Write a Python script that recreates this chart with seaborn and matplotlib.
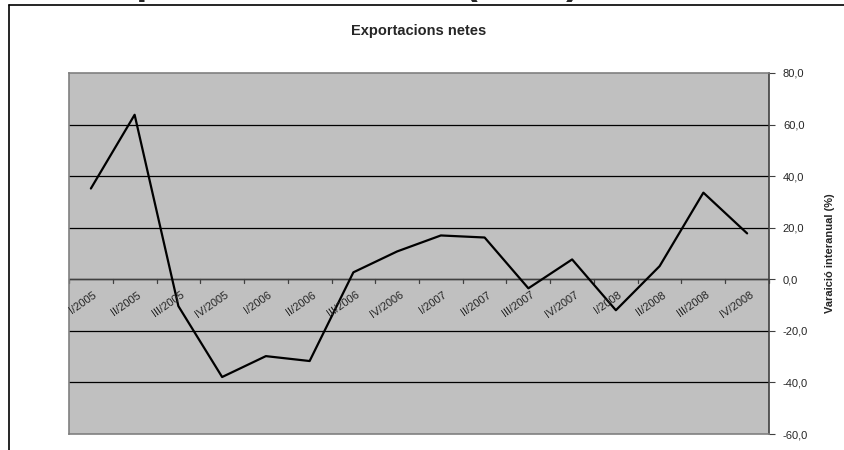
import matplotlib
matplotlib.use('Agg')
import matplotlib.pyplot as plt
from matplotlib.lines import Line2D
from matplotlib.ticker import FuncFormatter
import numpy as np
import pandas as pd
import seaborn as sns

# -----------------------------------------------------------------------
# Data
quarters = ['I/2005', 'II/2005', 'III/2005', 'IV/2005',
            'I/2006', 'II/2006', 'III/2006', 'IV/2006',
            'I/2007', 'II/2007', 'III/2007', 'IV/2007',
            'I/2008', 'II/2008', 'III/2008', 'IV/2008']
variacio = [35.2, 63.8, -10.4, -37.9,
            -29.8, -31.7, 2.7, 10.8,
            17.0, 16.2, -3.5, 7.7,
            -12.0, 5.1, 33.6, 17.8]
y_ticks = [-60, -40, -20, 0, 20, 40, 60, 80]

frame = pd.DataFrame({'Quarter': quarters, 'Valor': variacio})
frame['Pos'] = np.arange(len(quarters))

# -----------------------------------------------------------------------
# Canvas
sns.set_style('white')
plt.rcParams['font.family'] = ['Liberation Sans', 'DejaVu Sans']
W, H = 845, 450
fig = plt.figure(figsize=(W / 100, H / 100), dpi=100)
ax = fig.add_axes([69 / W, 1 - 434 / H, (769 - 69) / W, (434 - 73) / H])
ax.set_facecolor('#C0C0C0')

# Outer chart frame (only top and left edges are visible)
fig.add_artist(Line2D([9 / W, 9 / W], [0, 1 - 5 / H], color='black', lw=1.2,
                      transform=fig.transFigure))
fig.add_artist(Line2D([9 / W, 1], [1 - 5 / H, 1 - 5 / H], color='black', lw=1.2,
                      transform=fig.transFigure))

# Big heading of the page, cut off by the top edge (only descenders show)
fig.text(88 / W, 1 + 6 / H, 'Exportacions netes (2008)', fontsize=28.5,
         fontweight='bold', ha='left', va='baseline')

# Horizontal gridlines
for v in y_ticks[1:-1]:
    ax.axhline(v, color='black', lw=0.9, zorder=1)

sns.lineplot(data=frame, x='Pos', y='Valor', color='black', lw=1.6,
             estimator=None, ax=ax, zorder=3)

ax.set_xlim(-0.5, len(quarters) - 0.5)
ax.set_ylim(-60, 80)

# Spines
for side in ['top', 'left', 'right', 'bottom']:
    ax.spines[side].set_color('#808080')
    ax.spines[side].set_linewidth(1.2)
ax.spines['right'].set_color('#404040')

# Y axis on the right
ax.yaxis.tick_right()
ax.yaxis.set_label_position('right')
ax.set_yticks(y_ticks)
ax.yaxis.set_major_formatter(FuncFormatter(lambda v, p: f'{v:.1f}'.replace('.', ',')))
ax.tick_params(axis='y', direction='out', length=4, color='#404040',
               labelsize=8, pad=6)
ax.set_ylabel('Varaició interanual (%)', fontsize=8, fontweight='bold',
              labelpad=12)

# X axis crossing at zero, ticks between categories
ax.set_xlabel('')
ax.set_xticks([])
for k in range(len(quarters) + 1):
    ax.plot([k - 0.5, k - 0.5], [0, -1.6], color='#404040', lw=0.9,
            zorder=2, clip_on=False)
ax.axhline(0, color='#404040', lw=1.0, zorder=2)
for k, q in enumerate(quarters):
    ax.text(k + 0.05, -4.0, q, rotation=35, rotation_mode='anchor',
            ha='right', va='top', fontsize=8, zorder=4)

ax.set_title('Exportacions netes', fontsize=10.5, fontweight='bold', pad=27)

fig.savefig('out.png', dpi=100)
